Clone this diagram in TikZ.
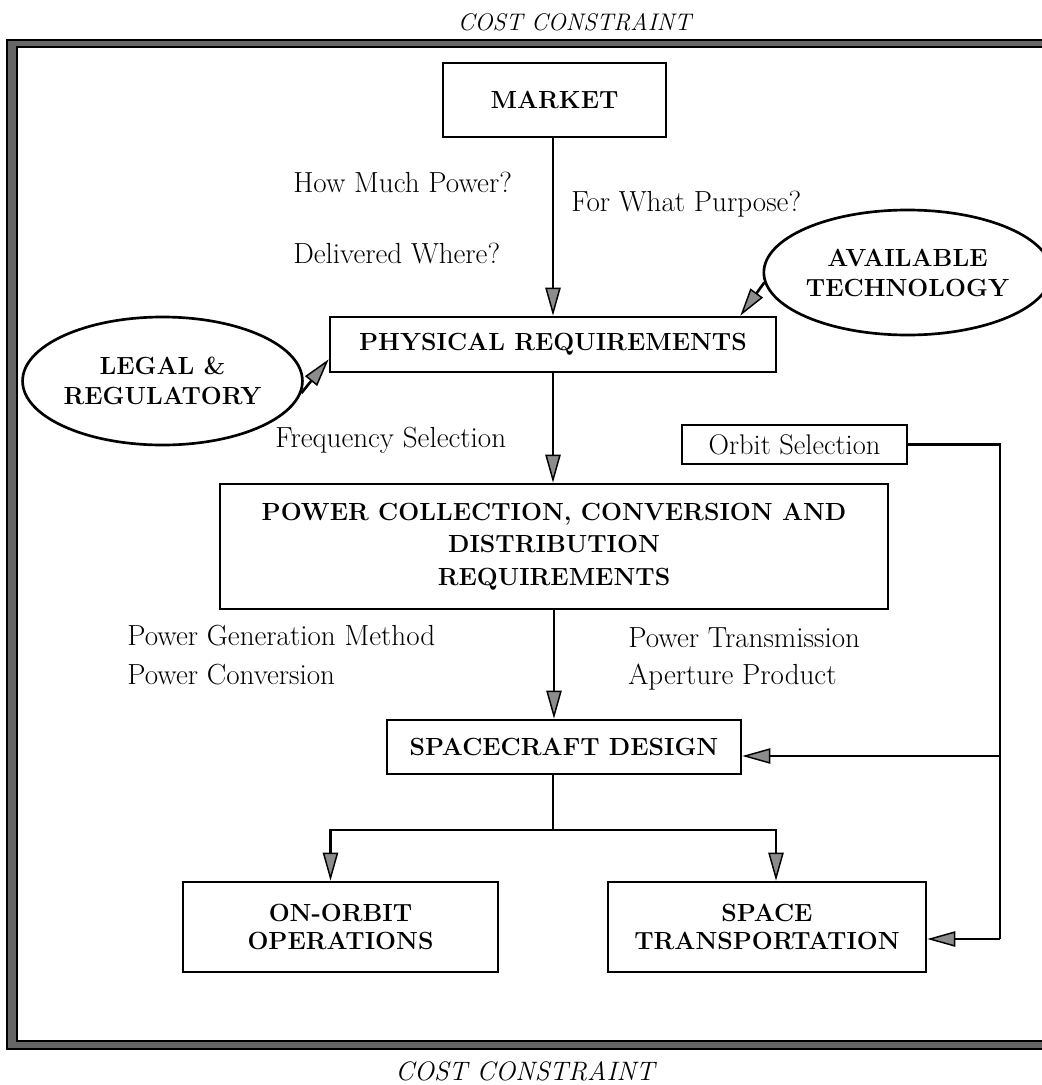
\documentclass[tikz,border=0pt]{standalone}
\usetikzlibrary{arrows.meta,shapes.geometric,calc}
\begin{document}
\begin{tikzpicture}[x=0.75pt,y=-0.75pt,
  box/.style={draw, line width=2pt, inner sep=0pt, align=center, font={\bfseries\fontsize{18.6pt}{22pt}\selectfont}},
  oval/.style={ellipse, draw, line width=2pt, inner sep=0pt, align=center, font={\bfseries\fontsize{18.6pt}{22.5pt}\selectfont}},
  lbl/.style={inner sep=0pt, font={\fontsize{21.8pt}{26pt}\selectfont}},
  cost/.style={inner sep=0pt, font={\itshape\fontsize{18pt}{22pt}\selectfont}},
  conn/.style={line width=2pt},
  arr/.style={conn, -{Triangle[length=21pt,width=11.5pt,fill=black!45,line width=1.1pt]}},
]
\useasboundingbox (0,0) rectangle (1042,1085);
\clip (0,0) rectangle (1042,1085);
% frame
\fill[black!60, even odd rule] (7,40) rectangle (1060,1049) (17,47) rectangle (1060,1041);
\draw[line width=0.9pt] (1060,40) -- (7,40) -- (7,1049) -- (1060,1049);
\draw[line width=0.9pt] (1060,47) -- (17,47) -- (17,1041) -- (1060,1041);
\node[cost, anchor=base] (ct) at (574.5,31) {COST CONSTRAINT};
\node[cost, anchor=base, font={\itshape\fontsize{20pt}{24pt}\selectfont}] (cb) at (525,1080) {COST CONSTRAINT};
% boxes
\node[box, minimum width=167.25pt, minimum height=55.5pt] (market) at (554.5,100) {MARKET};
\node[box, minimum width=334.5pt, minimum height=41.25pt] (phys) at (553,344.5) {PHYSICAL REQUIREMENTS};
\node[box, minimum width=501pt, minimum height=93.75pt, font={\bfseries\fontsize{18.6pt}{24.5pt}\selectfont}] (power) at (554,546.5) {POWER COLLECTION, CONVERSION AND\\DISTRIBUTION\\REQUIREMENTS};
\node[box, minimum width=265.5pt, minimum height=40.5pt] (sc) at (564,747) {SPACECRAFT DESIGN};
\node[box, minimum width=236.25pt, minimum height=67.5pt, font={\bfseries\fontsize{18.6pt}{21pt}\selectfont}] (onorbit) at (340.5,927) {ON-ORBIT\\OPERATIONS};
\node[box, minimum width=238.5pt, minimum height=67.5pt, font={\bfseries\fontsize{18.6pt}{21pt}\selectfont}] (space) at (767,927) {SPACE\\TRANSPORTATION};
\node[box, minimum width=168.75pt, minimum height=29.25pt, font={\fontsize{21.3pt}{26pt}\selectfont}] (orbit) at (794.5,444.5) {Orbit Selection};
\node[oval, minimum width=197.25pt, minimum height=93.75pt] (avail) at (907.5,272.5) {AVAILABLE\\TECHNOLOGY};
\node[oval, minimum width=198.75pt, minimum height=96pt] (legal) at (162.5,381) {LEGAL \&\\REGULATORY};
% labels
\node[lbl, anchor=base west] (q1) at (293,192) {How Much Power?};
\node[lbl, anchor=base west] (q2) at (571,211) {For What Purpose?};
\node[lbl, anchor=base west] (q3) at (293,263) {Delivered Where?};
\node[lbl, anchor=base west] (fs) at (275,447) {Frequency Selection};
\node[lbl, anchor=base west] (pg) at (127,645) {Power Generation Method};
\node[lbl, anchor=base west] (pc) at (127,684) {Power Conversion};
\node[lbl, anchor=base west] (pt) at (628,647) {Power Transmission};
\node[lbl, anchor=base west] (ap) at (628,684) {Aperture Product};
% connectors
\draw[arr] (market.south -| phys.north) -- (phys.north);
\draw[arr] (phys.south) -- (phys.south |- power.north);
\draw[arr] (power.south) -- (power.south |- sc.north);
\coordinate (split) at (553,830);
\draw[conn] (sc.south -| split) -- (split);
\draw[arr] (split) -| ($(onorbit.north)+(-10,0)$);
\draw[arr] (split) -| ($(space.north)+(9,0)$);
\coordinate (c1) at (1000,445);
\coordinate (c2) at (1000,939);
\coordinate (c3) at (1000,756);
\draw[conn] (orbit.east) -- (orbit.east -| c1) -- (c2);
\draw[arr] (c2) -- (c2 -| space.east);
\draw[arr] (c3) -- (c3 -| sc.east);
\draw[arr] (avail.184) -- ($(phys.north east)+(-37,0)$);
\draw[arr] (legal.-5) -- ($(phys.south west)+(0,-14)$);
\end{tikzpicture}
\end{document}
